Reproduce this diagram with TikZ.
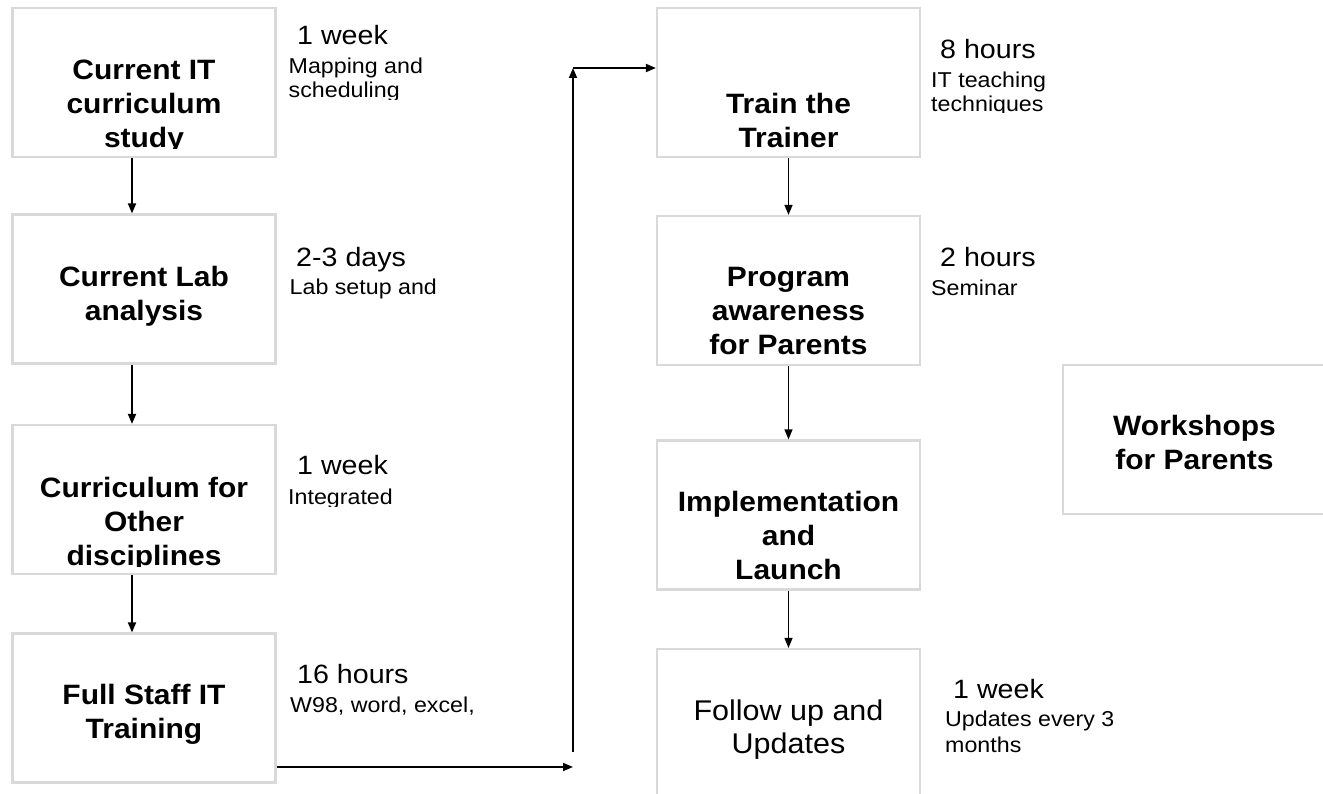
\documentclass[tikz,border=0pt]{standalone}
\usepackage{fontspec}
\setmainfont{Liberation Sans}
\usetikzlibrary{arrows.meta}

\definecolor{boxgray}{RGB}{217,217,217}

\tikzset{
  stage/.style={draw=boxgray, line width=2.2pt, minimum width=263pt, minimum height=149pt, inner sep=0pt},
  stagetext/.style={font=\bfseries\fontsize{28}{34}\selectfont, align=center, anchor=base, inner sep=0pt, xscale=1.07, transform shape},
  plaintext/.style={stagetext, font=\fontsize{28.5}{33}\selectfont},
  timetext/.style={font=\fontsize{26.5}{30}\selectfont, anchor=base west, inner sep=0pt, xscale=1.08, transform shape},
  notetext/.style={font=\fontsize{21.5}{24}\selectfont, align=left, anchor=base west, inner sep=0pt, xscale=1.08, transform shape},
  flow/.style={-{Triangle[length=10pt,width=8pt]}, line width=1.8pt},
  thinflow/.style={-{Triangle[length=10pt,width=8pt]}, line width=1.3pt}
}

\begin{document}
\begin{tikzpicture}[x=1pt,y=-1pt]
\useasboundingbox (0,0) rectangle (1323,794);

% left column
\node[stage] (cur) at (144,82.5) {};
\node[stage] (lab) at (144,289) {};
\node[stage] (oth) at (144,499.5) {};
\node[stage] (staff) at (144,708) {};

% right column
\node[stage] (trn) at (788.5,82.5) {};
\node[stage] (par) at (788.5,290.5) {};
\node[stage] (imp) at (788.5,515) {};
\node[stage] (fol) at (788.5,723.5) {};
\node[stage] (wks) at (1194.5,439.5) {};

% box texts (anchored on the last line)
\begin{scope}
\clip (0,0) rectangle (1323,149);
\node[stagetext] (curtxt) at (144,148) {Current IT\\curriculum\\study};
\end{scope}
\node[stagetext] (labtxt) at (144,321) {Current Lab\\analysis};
\begin{scope}
\clip (0,400) rectangle (1323,566);
\node[stagetext] (othtxt) at (144,565) {Curriculum for\\Other\\disciplines};
\end{scope}
\node[stagetext] (stafftxt) at (144,738) {Full Staff IT\\Training};

\node[stagetext] (trntxt) at (788.5,148) {Train the\\Trainer};
\node[stagetext] (partxt) at (788.5,355) {Program\\awareness\\for Parents};
\node[stagetext] (imptxt) at (788.5,579) {Implementation\\and\\Launch};
\node[plaintext] (foltxt) at (788.5,753) {Follow up and\\Updates};
\node[stagetext] (wkstxt) at (1194.5,469) {Workshops\\for Parents};

% durations and notes
\node[timetext] (curtime) at (297,45) {1 week};
\begin{scope}
\clip (0,0) rectangle (1323,100);
\node[notetext] (curnote) at (288.5,98) {Mapping and\\scheduling};
\end{scope}
\node[timetext] (labtime) at (296,267) {2-3 days};
\node[notetext] (labnote) at (289.5,295) {Lab setup and};
\node[timetext] (othtime) at (297,474) {1 week};
\begin{scope}
\clip (0,400) rectangle (1323,506);
\node[notetext] (othnote) at (288,504) {Integrated};
\end{scope}
\node[timetext] (stafftime) at (297,683) {16 hours};
\node[notetext] (staffnote) at (290,712) {W98, word, excel,};

\node[timetext] (trntime) at (940,59) {8 hours};
\begin{scope}
\clip (0,0) rectangle (1323,113);
\node[notetext] (trnnote) at (931,112) {IT teaching\\techniques};
\end{scope}
\node[timetext] (partime) at (940,267) {2 hours};
\node[notetext] (parnote) at (931,296) {Seminar};
\node[timetext] (foltime) at (953,698) {1 week};
\node[notetext, font=\fontsize{21.5}{25.5}\selectfont] (folnote) at (945,752) {Updates every 3\\months};

% connectors
\draw[flow] ([xshift=-12pt]cur.south) -- ([xshift=-12pt]lab.north);
\draw[flow] ([xshift=-12pt]lab.south) -- ([xshift=-12pt]oth.north);
\draw[flow] ([xshift=-12pt]oth.south) -- ([xshift=-12pt]staff.north);

\draw[thinflow] (trn.south) -- (par.north);
\draw[thinflow] (par.south) -- (imp.north);
\draw[thinflow] (imp.south) -- (fol.north);

\coordinate (lowbend) at (573,767);
\coordinate (riser) at (573,752);
\coordinate (topbend) at (573,68);
\draw[flow] (staff.east |- lowbend) -- (lowbend);
\draw[flow] (riser) -- (topbend);
\draw[flow] (topbend) -- (trn.west |- topbend);
\end{tikzpicture}
\end{document}
